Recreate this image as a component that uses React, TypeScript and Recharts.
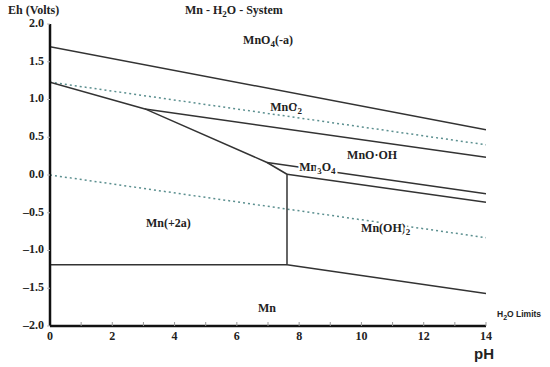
import React from "react";
import { LineChart, Line, XAxis, YAxis, ReferenceDot } from "recharts";

// boundaries of the Mn - H2O Pourbaix diagram (pH, Eh in volts)
const mno4Mno2 = [{ x: 0, y: 1.7 }, { x: 14, y: 0.6 }];
const mn2Oxides = [
  { x: 0, y: 1.23 },
  { x: 3.05, y: 0.875 },
  { x: 6.97, y: 0.165 },
  { x: 7.61, y: 0.01 },
];
const mno2Mnooh = [{ x: 3.05, y: 0.875 }, { x: 14, y: 0.235 }];
const mnoohMn3o4 = [{ x: 6.97, y: 0.165 }, { x: 14, y: -0.25 }];
const mn3o4Mnoh2 = [{ x: 7.61, y: 0.01 }, { x: 14, y: -0.36 }];
const mn2Mnoh2 = [{ x: 7.61, y: 0.01 }, { x: 7.61, y: -1.19 }];
const mn2Mn = [{ x: 0, y: -1.19 }, { x: 7.61, y: -1.19 }];
const mnoh2Mn = [{ x: 7.61, y: -1.19 }, { x: 14, y: -1.57 }];

// water stability limits
const o2Limit = [{ x: 0, y: 1.23 }, { x: 14, y: 0.4 }];
const h2Limit = [{ x: 0, y: 0 }, { x: 14, y: -0.83 }];

const solidLines = [mno4Mno2, mn2Oxides, mno2Mnooh, mnoohMn3o4, mn3o4Mnoh2, mn2Mnoh2, mn2Mn, mnoh2Mn];
const waterLines = [o2Limit, h2Limit];

const xTicks = [0, 1, 2, 3, 4, 5, 6, 7, 8, 9, 10, 11, 12, 13, 14];
const yTicks = [-2, -1.5, -1, -0.5, 0, 0.5, 1, 1.5, 2];

// region labels: main text, subscript, rest, second subscript
const regionLabels = [
  { x: 6.2, y: 1.735, parts: ["MnO", "4", "(-a)"], mask: false },
  { x: 7.07, y: 0.85, parts: ["MnO", "2", ""], mask: true },
  { x: 9.54, y: 0.214, parts: ["MnO\u00b7OH", "", ""], mask: false },
  { x: 8.0, y: 0.055, parts: ["Mn", "3", "O"], sub2: "4", mask: true },
  { x: 3.08, y: -0.685, parts: ["Mn(+2a)", "", ""], mask: false },
  { x: 9.99, y: -0.751, parts: ["Mn(OH)", "2", ""], mask: true },
  { x: 6.68, y: -1.81, parts: ["Mn", "", ""], mask: false },
];

const SERIF = "'Liberation Serif', 'Times New Roman', serif";
const SANS = "'Liberation Sans', Arial, sans-serif";

const fmtY = (v: number) => (v < 0 ? "\u2013" + Math.abs(v).toFixed(1) : v.toFixed(1));

function XTick(props: any) {
  const { x, y, payload } = props;
  if (payload.value % 2 !== 0) return null;
  return (
    <text x={x} y={y + 4} textAnchor="middle" dominantBaseline="middle" fontFamily={SERIF} fontWeight="bold" fontSize={12} fill="#222">
      {payload.value}
    </text>
  );
}

function YTick(props: any) {
  const { x, y, payload } = props;
  return (
    <text x={x} y={y} textAnchor="end" dominantBaseline="middle" fontFamily={SERIF} fontWeight="bold" fontSize={12} fill="#222">
      {fmtY(payload.value)}
    </text>
  );
}

function RegionLabel(props: any, lab: any) {
  const { cx, cy } = props;
  const maskProps = lab.mask ? { stroke: "#fff", strokeWidth: 4, paintOrder: "stroke" as any } : {};
  return (
    <text x={cx} y={cy} fontFamily={SERIF} fontWeight="bold" fontSize={12} fill="#222" {...maskProps}>
      <tspan>{lab.parts[0]}</tspan>
      {lab.parts[1] && (
        <tspan fontSize={9} dy={3}>
          {lab.parts[1]}
        </tspan>
      )}
      {lab.parts[2] && <tspan dy={lab.parts[1] ? -3 : 0}>{lab.parts[2]}</tspan>}
      {lab.sub2 && (
        <tspan fontSize={9} dy={3}>
          {lab.sub2}
        </tspan>
      )}
    </text>
  );
}

export default function App() {
  return (
    <div style={{ position: "absolute", left: 0, top: 0, width: 550, height: 367, background: "#fff" }}>
      <LineChart width={550} height={367} margin={{ top: 24, right: 64, bottom: 11, left: 0 }}>
        <XAxis
          type="number"
          dataKey="x"
          domain={[0, 14]}
          ticks={xTicks}
          interval={0}
          allowDataOverflow
          height={30}
          axisLine={{ stroke: "#111", strokeWidth: 2.5 }}
          tickLine={{ stroke: "#999" }}
          tickSize={-4}
          tickMargin={11}
          tick={<XTick />}
        />
        <XAxis
          xAxisId="top"
          orientation="top"
          type="number"
          dataKey="x"
          domain={[0, 14]}
          ticks={xTicks}
          interval={0}
          height={0}
          tick={false}
          axisLine={{ stroke: "#111", strokeWidth: 2 }}
          tickLine={{ stroke: "#999" }}
          tickSize={-4}
        />
        <YAxis
          type="number"
          domain={[-2, 2]}
          ticks={yTicks}
          interval={0}
          allowDataOverflow
          width={50}
          axisLine={{ stroke: "#111", strokeWidth: 2.5 }}
          tickLine={{ stroke: "#bbb" }}
          tickSize={3}
          tickMargin={3}
          tick={<YTick />}
        />
        <YAxis
          yAxisId="right"
          orientation="right"
          type="number"
          domain={[-2, 2]}
          ticks={yTicks}
          interval={0}
          width={0}
          tick={false}
          axisLine={{ stroke: "#111", strokeWidth: 2 }}
          tickLine={{ stroke: "#bbb" }}
          tickSize={-3}
        />
        {waterLines.map((seg, i) => (
          <Line
            key={"w" + i}
            data={seg}
            dataKey="y"
            type="linear"
            dot={false}
            stroke="#5b8f8f"
            strokeWidth={1.5}
            strokeDasharray="2 3"
            isAnimationActive={false}
          />
        ))}
        {solidLines.map((seg, i) => (
          <Line
            key={"s" + i}
            data={seg}
            dataKey="y"
            type="linear"
            dot={false}
            stroke="#333"
            strokeWidth={1.5}
            isAnimationActive={false}
          />
        ))}
        {regionLabels.map((lab, i) => (
          <ReferenceDot
            key={"l" + i}
            x={lab.x}
            y={lab.y}
            r={0}
            ifOverflow="visible"
            shape={(p: any) => RegionLabel(p, lab)}
          />
        ))}
      </LineChart>
      <div style={{ position: "absolute", left: 8, top: 3, fontFamily: SERIF, fontWeight: "bold", fontSize: 12, color: "#222" }}>
        Eh (Volts)
      </div>
      <div style={{ position: "absolute", left: 185, top: 3, fontFamily: SERIF, fontWeight: "bold", fontSize: 12, color: "#222" }}>
        Mn - H<sub style={{ fontSize: 9 }}>2</sub>O - System
      </div>
      <div style={{ position: "absolute", left: 497, top: 309, fontFamily: SANS, fontWeight: "bold", fontSize: 8.5, color: "#222" }}>
        H<sub style={{ fontSize: 7 }}>2</sub>O Limits
      </div>
      <div style={{ position: "absolute", left: 474, top: 345, fontFamily: SANS, fontWeight: "bold", fontSize: 15, color: "#222" }}>
        pH
      </div>
    </div>
  );
}
